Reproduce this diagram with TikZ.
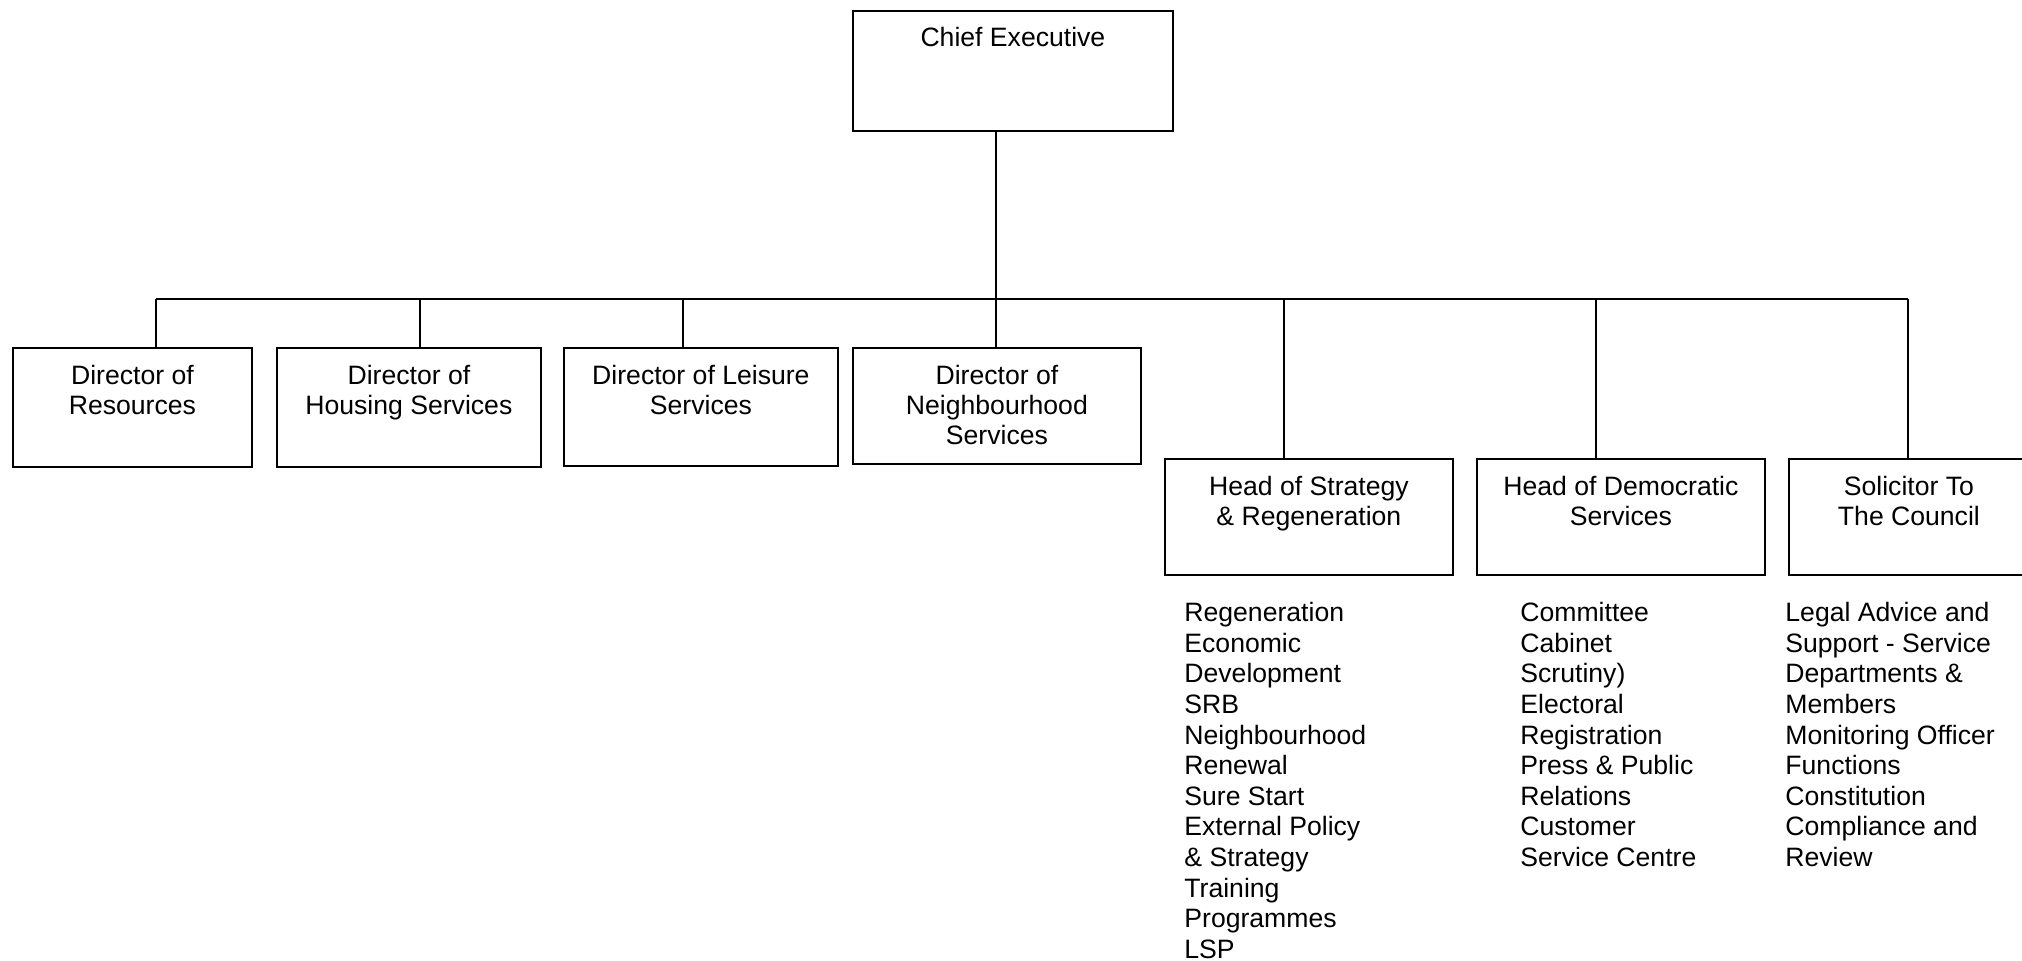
\documentclass[tikz,border=0pt]{standalone}
\usepackage{fontspec}
\setmainfont{Liberation Sans}
\usetikzlibrary{positioning}

\tikzset{
  unit/.style={draw, line width=0.9pt, inner sep=0pt, anchor=north west},
  title/.style={inner sep=0pt, align=center, font=\fontsize{13.3}{15}\selectfont},
  duties/.style={inner sep=0pt, align=left, anchor=north west, font=\fontsize{13.3}{15.3}\selectfont},
  link/.style={line width=0.9pt}
}

\begin{document}
\begin{tikzpicture}[x=0.5pt, y=-0.5pt]
\clip (0,0) rectangle (2022,960);
% chief executive
\node[unit, minimum width=160pt, minimum height=60pt] (chief) at (852,10) {};
\node[title, below=8.5pt of chief.north] (chieftxt) {Chief Executive};
% directors
\node[unit, minimum width=119.5pt, minimum height=59.5pt] (res) at (12,347) {};
\node[title, below=9pt of res.north] (restxt) {Director of\\Resources};
\node[unit, minimum width=132pt, minimum height=59.5pt] (hou) at (276,347) {};
\node[title, below=9pt of hou.north] (houtxt) {Director of\\Housing Services};
\node[unit, minimum width=137pt, minimum height=59pt] (lei) at (563,347) {};
\node[title, below=9pt of lei.north] (leitxt) {Director of Leisure\\Services};
\node[unit, minimum width=144pt, minimum height=58pt] (nbh) at (852,347) {};
\node[title, below=9pt of nbh.north] (nbhtxt) {Director of\\Neighbourhood\\Services};
% heads of service
\node[unit, minimum width=144pt, minimum height=58pt] (str) at (1164,458) {};
\node[title, below=9pt of str.north] (strtxt) {Head of Strategy\\\& Regeneration};
\node[unit, minimum width=144pt, minimum height=58pt] (dem) at (1476,458) {};
\node[title, below=9pt of dem.north] (demtxt) {Head of Democratic\\Services};
\node[unit, minimum width=120pt, minimum height=58pt] (sol) at (1788,458) {};
\node[title, below=9pt of sol.north] (soltxt) {Solicitor To\\The Council};
% duties
\node[duties] (strlist) at (1184,602) {Regeneration\\Economic\\Development\\SRB\\Neighbourhood\\Renewal\\Sure Start\\External Policy\\\& Strategy\\Training\\Programmes\\LSP};
\node[duties] (demlist) at (1520,602) {Committee\\Cabinet\\Scrutiny)\\Electoral\\Registration\\Press \& Public\\Relations\\Customer\\Service Centre};
\node[duties] (sollist) at (1785,602) {Legal Advice and\\Support - Service\\Departments \&\\Members\\Monitoring Officer\\Functions\\Constitution\\Compliance and\\Review};
% connectors
\coordinate (tres) at (156,299);
\coordinate (thou) at (420,299);
\coordinate (tlei) at (683,299);
\coordinate (tnbh) at (996,299);
\coordinate (tstr) at (1284,299);
\coordinate (tdem) at (1596,299);
\coordinate (tsol) at (1908,299);
\draw[link] (tres) -- (tsol);
\draw[link] (tnbh |- chief.south) -- (tnbh);
\foreach \t/\b in {tres/res, thou/hou, tlei/lei, tnbh/nbh, tstr/str, tdem/dem, tsol/sol}
  \draw[link] (\t) -- (\t |- \b.north);
\end{tikzpicture}
\end{document}
